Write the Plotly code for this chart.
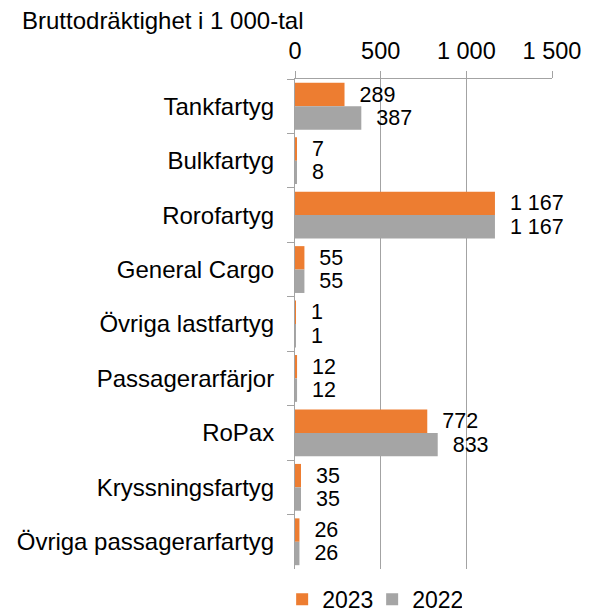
import plotly.graph_objects as go

categories = ["Tankfartyg", "Bulkfartyg", "Rorofartyg", "General Cargo",
              "Övriga lastfartyg", "Passagerarfärjor", "RoPax",
              "Kryssningsfartyg", "Övriga passagerarfartyg"]
values_2023 = [289, 7, 1167, 55, 1, 12, 772, 35, 26]
values_2022 = [387, 8, 1167, 55, 1, 12, 833, 35, 26]
series_names = ["2023", "2022"]
x_tickvals = [0, 500, 1000, 1500]
title_text = "Bruttodräktighet i 1 000-tal"

FONT = "Liberation Sans, Arial, sans-serif"
GRID = "#A3A3A3"

fig = go.Figure()
for name, vals, col in [(series_names[0], values_2023, "#ED7D31"),
                        (series_names[1], values_2022, "#A5A5A5")]:
    fig.add_trace(go.Bar(
        y=categories, x=vals, name=name, orientation="h",
        marker=dict(color=col, line=dict(width=0)),
        texttemplate="\u00a0\u00a0%{x:,}", textposition="outside",
        constraintext="none", cliponaxis=False,
        textfont=dict(size=21.5, color="black", family=FONT),
    ))

fig.update_layout(
    width=593, height=612,
    margin=dict(l=295, r=41, t=79, b=43, autoexpand=False),
    barmode="group", bargap=0.14, bargroupgap=0,
    separators=", ",
    plot_bgcolor="white", paper_bgcolor="white",
    font=dict(family=FONT, size=23, color="black"),
    title=dict(text=title_text, xref="container", yref="container",
               x=22 / 593, y=1 - 21 / 612, xanchor="left", yanchor="middle",
               font=dict(size=24, color="black", family=FONT)),
    showlegend=True,
    legend=dict(orientation="h", x=-0.05, xanchor="left",
                y=-0.062, yanchor="middle",
                font=dict(size=23, color="black"),
                itemwidth=30, entrywidth=45, traceorder="normal"),
    xaxis=dict(side="top", range=[0, 1500], tickvals=x_tickvals,
               separatethousands=True,
               showgrid=True, gridcolor=GRID, gridwidth=1, zeroline=False,
               showline=True, linecolor=GRID, linewidth=1,
               ticks="outside", ticklen=7, tickcolor=GRID,
               tickfont=dict(size=23.5), ticklabelstandoff=3,
               fixedrange=True),
    yaxis=dict(autorange="reversed", showgrid=False,
               showline=True, linecolor=GRID, linewidth=1,
               ticks="outside", ticklen=7, tickcolor=GRID,
               tickson="boundaries",
               tickfont=dict(size=24), ticklabelstandoff=15,
               fixedrange=True),
)

fig.write_html("out.html", config={"displayModeBar": False},
               post_script="document.body.style.margin='0';document.body.style.overflow='hidden';")
